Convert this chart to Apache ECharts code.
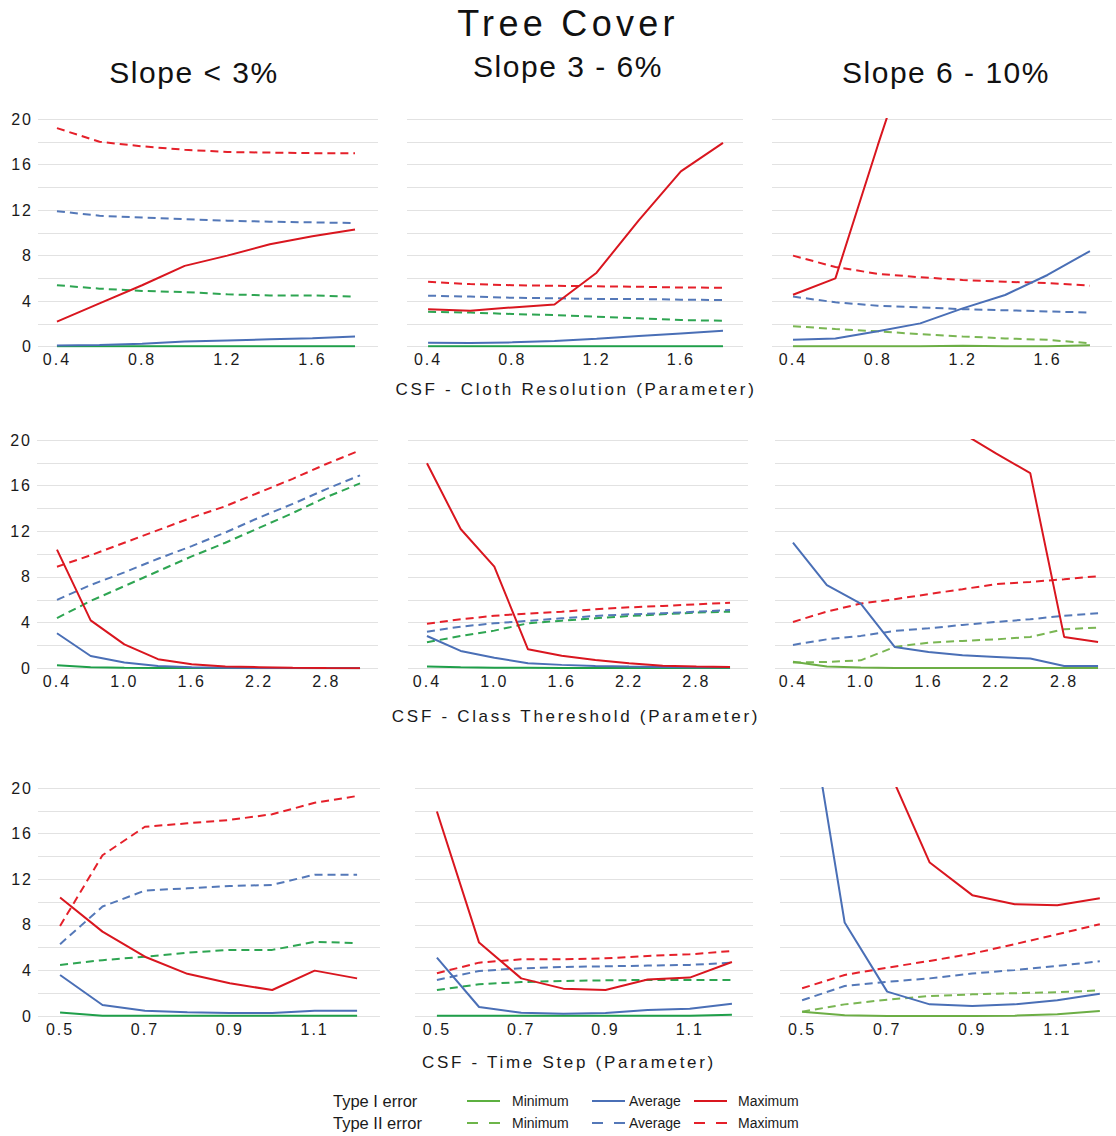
<!DOCTYPE html>
<html>
<head>
<meta charset="utf-8">
<script src="https://cdn.jsdelivr.net/npm/echarts@6/dist/echarts.min.js"></script>
<style>
  html, body { margin: 0; padding: 0; background: #fff; }
  #chart { width: 1116px; height: 1136px; }
  #chart text[style*="36px"] { letter-spacing: 4.3px; }
  #chart text[style*="30px"] { letter-spacing: 1.5px; }
  #chart text[style*="17px"] { letter-spacing: 2.7px; }
  #chart text[style*="16px"] { letter-spacing: 2px; }
</style>
</head>
<body>
<div id="chart"></div>
<script>
// ---------------- data ----------------
const mainTitle = 'Tree Cover';
const slopeTitles = ['Slope < 3%', 'Slope 3 - 6%', 'Slope 6 - 10%'];
const rowTitles = ['CSF - Cloth Resolution (Parameter)', 'CSF - Class Thereshold (Parameter)', 'CSF - Time Step (Parameter)'];

const xCloth = [0.4, 0.6, 0.8, 1.0, 1.2, 1.4, 1.6, 1.8];
const xClass = [0.4, 0.7, 1.0, 1.3, 1.6, 1.9, 2.2, 2.5, 2.8, 3.1];
const xTime  = [0.5, 0.6, 0.7, 0.8, 0.9, 1.0, 1.1, 1.2];

const clothTicks = [0.4, 0.8, 1.2, 1.6];
const classTicks = [0.4, 1.0, 1.6, 2.2, 2.8];
const timeTicks  = [0.5, 0.7, 0.9, 1.1];
const yTicks = [0, 4, 8, 12, 16, 20];

// Cloth resolution, slope < 3%
const cloth1_t1Min = [0.05, 0.05, 0.05, 0.05, 0.05, 0.05, 0.05, 0.05];
const cloth1_t1Avg = [0.1, 0.15, 0.25, 0.45, 0.55, 0.65, 0.75, 0.9];
const cloth1_t1Max = [2.2, 3.8, 5.4, 7.1, 8.0, 9.0, 9.7, 10.3];
const cloth1_t2Min = [5.4, 5.1, 4.9, 4.8, 4.6, 4.5, 4.5, 4.4];
const cloth1_t2Avg = [11.9, 11.5, 11.35, 11.2, 11.07, 10.98, 10.92, 10.86];
const cloth1_t2Max = [19.2, 18.0, 17.6, 17.3, 17.1, 17.05, 17.0, 17.0];
// Cloth resolution, slope 3 - 6%
const cloth2_t1Min = [0.05, 0.05, 0.05, 0.05, 0.05, 0.05, 0.05, 0.05];
const cloth2_t1Avg = [0.35, 0.32, 0.38, 0.5, 0.7, 0.94, 1.17, 1.4];
const cloth2_t1Max = [3.28, 3.16, 3.45, 3.7, 6.5, 11.1, 15.4, 17.9];
const cloth2_t2Min = [3.07, 3.0, 2.87, 2.78, 2.63, 2.5, 2.34, 2.28];
const cloth2_t2Avg = [4.48, 4.4, 4.3, 4.25, 4.2, 4.19, 4.13, 4.1];
const cloth2_t2Max = [5.7, 5.5, 5.4, 5.35, 5.3, 5.27, 5.2, 5.18];
// Cloth resolution, slope 6 - 10%
const cloth3_t1Min = [0.05, 0.05, 0.05, 0.05, 0.08, 0.05, 0.05, 0.12];
const cloth3_t1Avg = [0.6, 0.73, 1.35, 2.05, 3.37, 4.54, 6.3, 8.4];
const cloth3_t1Max = [4.56, 6.0, 17.7, 29, 35, 40, 45, 50];
const cloth3_t2Min = [1.8, 1.55, 1.35, 1.1, 0.9, 0.73, 0.6, 0.3];
const cloth3_t2Avg = [4.4, 3.9, 3.6, 3.45, 3.3, 3.2, 3.1, 3.0];
const cloth3_t2Max = [8.0, 7.0, 6.4, 6.1, 5.86, 5.7, 5.6, 5.36];

// Class threshold, slope < 3%
const class1_t1Min = [0.26, 0.1, 0.05, 0.03, 0.02, 0.02, 0.01, 0.01, 0, 0];
const class1_t1Avg = [3.07, 1.08, 0.5, 0.2, 0.1, 0.05, 0.03, 0.02, 0.01, 0.01];
const class1_t1Max = [10.4, 4.2, 2.1, 0.8, 0.35, 0.15, 0.1, 0.05, 0.02, 0.01];
const class1_t2Min = [4.4, 5.9, 7.2, 8.5, 9.8, 11.0, 12.3, 13.6, 15.0, 16.2];
const class1_t2Avg = [6.0, 7.3, 8.4, 9.6, 10.7, 11.9, 13.2, 14.4, 15.7, 16.9];
const class1_t2Max = [8.9, 9.9, 11.0, 12.1, 13.2, 14.2, 15.4, 16.6, 17.9, 19.1];
// Class threshold, slope 3 - 6%
const class2_t1Min = [0.15, 0.09, 0.05, 0.04, 0.03, 0.03, 0.02, 0.02, 0.02, 0.02];
const class2_t1Avg = [2.83, 1.52, 0.93, 0.44, 0.3, 0.2, 0.15, 0.12, 0.09, 0.09];
const class2_t1Max = [17.96, 12.2, 8.9, 1.66, 1.1, 0.73, 0.44, 0.23, 0.15, 0.12];
const class2_t2Min = [2.28, 2.83, 3.3, 3.94, 4.17, 4.38, 4.58, 4.73, 4.88, 4.96];
const class2_t2Avg = [3.2, 3.65, 3.94, 4.15, 4.38, 4.58, 4.73, 4.82, 4.96, 5.1];
const class2_t2Max = [3.9, 4.3, 4.6, 4.8, 4.96, 5.17, 5.34, 5.46, 5.6, 5.75];
// Class threshold, slope 6 - 10%
const class3_t1Min = [0.58, 0.15, 0.06, 0.03, 0.03, 0.03, 0.03, 0.03, 0.03, 0.03];
const class3_t1Avg = [11.0, 7.28, 5.67, 1.87, 1.43, 1.14, 1.0, 0.85, 0.2, 0.2];
const class3_t1Max = [40, 35, 30, 26, 23, 20.6, 18.8, 17.1, 2.75, 2.3];
const class3_t2Min = [0.5, 0.56, 0.7, 1.87, 2.25, 2.4, 2.54, 2.75, 3.42, 3.57];
const class3_t2Avg = [2.05, 2.54, 2.84, 3.27, 3.5, 3.8, 4.06, 4.3, 4.6, 4.82];
const class3_t2Max = [4.06, 4.97, 5.67, 6.05, 6.5, 6.93, 7.37, 7.57, 7.8, 8.07];

// Time step, slope < 3%
const time1_t1Min = [0.3, 0.03, 0.03, 0.03, 0.03, 0.03, 0.03, 0.03];
const time1_t1Avg = [3.6, 0.97, 0.47, 0.32, 0.26, 0.26, 0.47, 0.47];
const time1_t1Max = [10.4, 7.4, 5.2, 3.7, 2.87, 2.28, 3.98, 3.3];
const time1_t2Min = [4.48, 4.9, 5.2, 5.56, 5.8, 5.8, 6.5, 6.4];
const time1_t2Avg = [6.3, 9.6, 11.0, 11.2, 11.4, 11.5, 12.4, 12.4];
const time1_t2Max = [7.9, 14.1, 16.6, 16.9, 17.2, 17.7, 18.7, 19.3];
// Time step, slope 3 - 6%
const time2_t1Min = [0.03, 0.03, 0.03, 0.03, 0.03, 0.03, 0.03, 0.1];
const time2_t1Avg = [5.12, 0.79, 0.29, 0.2, 0.26, 0.53, 0.64, 1.08];
const time2_t1Max = [17.94, 6.44, 3.3, 2.4, 2.28, 3.2, 3.37, 4.74];
const time2_t2Min = [2.28, 2.78, 2.98, 3.07, 3.13, 3.16, 3.16, 3.16];
const time2_t2Avg = [3.16, 3.95, 4.18, 4.3, 4.36, 4.42, 4.48, 4.68];
const time2_t2Max = [3.75, 4.68, 4.97, 4.97, 5.06, 5.27, 5.41, 5.7];
// Time step, slope 6 - 10%
const time3_t1Min = [0.38, 0.06, 0.0, 0.0, 0.0, 0.03, 0.15, 0.44];
const time3_t1Avg = [31, 8.2, 2.14, 1.02, 0.88, 1.02, 1.38, 1.96];
const time3_t1Max = [50, 35, 21.9, 13.46, 10.6, 9.8, 9.72, 10.33];
const time3_t2Min = [0.38, 1.02, 1.43, 1.75, 1.9, 2.0, 2.08, 2.25];
const time3_t2Avg = [1.38, 2.63, 3.0, 3.3, 3.72, 4.04, 4.39, 4.8];
const time3_t2Max = [2.43, 3.6, 4.24, 4.83, 5.47, 6.3, 7.17, 8.05];

const legendTypes = ['Type I error', 'Type II error'];
const legendStats = ['Minimum', 'Average', 'Maximum'];

// ---------------- layout / styles ----------------
const FONT = 'Liberation Sans, Arial, sans-serif';
const rows = [
  { x: xCloth, ticks: clothTicks, panels: [
    [cloth1_t1Min, cloth1_t1Avg, cloth1_t1Max, cloth1_t2Min, cloth1_t2Avg, cloth1_t2Max],
    [cloth2_t1Min, cloth2_t1Avg, cloth2_t1Max, cloth2_t2Min, cloth2_t2Avg, cloth2_t2Max],
    [cloth3_t1Min, cloth3_t1Avg, cloth3_t1Max, cloth3_t2Min, cloth3_t2Avg, cloth3_t2Max]] },
  { x: xClass, ticks: classTicks, panels: [
    [class1_t1Min, class1_t1Avg, class1_t1Max, class1_t2Min, class1_t2Avg, class1_t2Max],
    [class2_t1Min, class2_t1Avg, class2_t1Max, class2_t2Min, class2_t2Avg, class2_t2Max],
    [class3_t1Min, class3_t1Avg, class3_t1Max, class3_t2Min, class3_t2Avg, class3_t2Max]] },
  { x: xTime, ticks: timeTicks, panels: [
    [time1_t1Min, time1_t1Avg, time1_t1Max, time1_t2Min, time1_t2Avg, time1_t2Max],
    [time2_t1Min, time2_t1Avg, time2_t1Max, time2_t2Min, time2_t2Avg, time2_t2Max],
    [time3_t1Min, time3_t1Avg, time3_t1Max, time3_t2Min, time3_t2Avg, time3_t2Max]] }
];
// grid boxes [left, top, width, height]
const boxes = [
  [[38, 119, 340, 227.7], [407, 119, 336, 227.7], [772, 119, 340, 227.7]],
  [[37, 440, 341, 228.3], [408, 440, 340, 228.3], [775, 440, 340, 228.3]],
  [[38, 788, 342, 228], [415, 788, 338, 228], [780, 788, 336, 228]]
];
const xRanges = [
  [[0.311, 1.908], [0.300, 1.895], [0.301, 1.904]],
  [[0.222, 3.260], [0.231, 3.260], [0.241, 3.250]],
  [[0.448, 1.254], [0.448, 1.250], [0.448, 1.238]]
];
const greens = ['#1f9f4a', '#1f9f4a', '#6cae45'];
const greensDash = ['#2ea552', '#2ea552', '#7ab653'];
const RED = '#d9161f', RED_D = '#e5202a', BLUE = '#4a6fb6', BLUE_D = '#5478b8';

const grid = [], xAxis = [], yAxis = [], series = [];
rows.forEach((row, r) => {
  row.panels.forEach((vals, c) => {
    const i = r * 3 + c;
    const b = boxes[r][c];
    grid.push({ left: b[0], top: b[1], width: b[2], height: b[3] });
    xAxis.push({
      type: 'value', gridIndex: i, min: xRanges[r][c][0], max: xRanges[r][c][1],
      axisLine: { show: false }, axisTick: { show: false }, splitLine: { show: false },
      axisLabel: { customValues: row.ticks, formatter: v => v.toFixed(1), color: '#1a1a1a',
        fontSize: 16, fontFamily: FONT, margin: 5 }
    });
    yAxis.push({
      type: 'value', gridIndex: i, min: 0, max: 20, interval: 2,
      axisLine: { show: false }, axisTick: { show: false },
      splitLine: { show: true, lineStyle: { color: '#e2e2e2', width: 1 } },
      axisLabel: { show: c === 0, color: '#1a1a1a', fontSize: 16, fontFamily: FONT, margin: 5,
        formatter: v => (yTicks.indexOf(v) >= 0 ? String(v) : '') }
    });
    const styles = [
      { color: greens[c], dash: false },
      { color: BLUE, dash: false },
      { color: RED, dash: false },
      { color: greensDash[c], dash: true },
      { color: BLUE_D, dash: true },
      { color: RED_D, dash: true }
    ];
    const order = [3, 4, 5, 0, 1, 2];
    order.forEach(k => {
      series.push({
        type: 'line', xAxisIndex: i, yAxisIndex: i, symbol: 'none', silent: true, clip: true,
        data: row.x.map((xv, j) => [xv, vals[k][j]]),
        lineStyle: { color: styles[k].color, width: 2, type: styles[k].dash ? [8, 5] : 'solid' },
        itemStyle: { color: styles[k].color }
      });
    });
  });
});

const graphic = [];
graphic.push({ type: 'text', x: 568, y: 23, style: { text: mainTitle, fontSize: 36, fontFamily: FONT,
  fill: '#111', textAlign: 'center', textVerticalAlign: 'middle' } });
const subPos = [[194, 72], [568, 66], [946, 72]];
slopeTitles.forEach((t, k) => graphic.push({ type: 'text', x: subPos[k][0], y: subPos[k][1],
  style: { text: t, fontSize: 30, fontFamily: FONT, fill: '#111', textAlign: 'center', textVerticalAlign: 'middle' } }));
const rowTitlePos = [[576, 389], [576, 716], [569, 1062]];
rowTitles.forEach((t, k) => graphic.push({ type: 'text', x: rowTitlePos[k][0], y: rowTitlePos[k][1],
  style: { text: t, fontSize: 17, fontFamily: FONT, fill: '#1a1a1a', textAlign: 'center', textVerticalAlign: 'middle' } }));

// legend
const legY = [1101, 1123];
const legLineX = [467, 592, 694];
const legTextX = [512, 629, 738];
const legColors = [['#5cb040', BLUE, RED], ['#6db54a', BLUE_D, RED_D]];
legendTypes.forEach((t, r) => {
  graphic.push({ type: 'text', x: 333, y: legY[r], style: { text: t, fontSize: 16.5, fontFamily: FONT,
    fill: '#1a1a1a', textAlign: 'left', textVerticalAlign: 'middle' } });
  legendStats.forEach((s, k) => {
    graphic.push({ type: 'line', shape: { x1: legLineX[k], y1: legY[r], x2: legLineX[k] + 33, y2: legY[r] },
      style: { stroke: legColors[r][k], lineWidth: 2, lineDash: r === 1 ? [11, 11] : null } });
    graphic.push({ type: 'text', x: legTextX[k], y: legY[r], style: { text: s, fontSize: 14, fontFamily: FONT,
      fill: '#1a1a1a', textAlign: 'left', textVerticalAlign: 'middle' } });
  });
});

const chart = echarts.init(document.getElementById('chart'), null, { renderer: 'svg', width: 1116, height: 1136 });
chart.setOption({
  animation: false,
  backgroundColor: '#fff',
  textStyle: { fontFamily: FONT },
  grid, xAxis, yAxis, series, graphic
});
</script>
</body>
</html>
